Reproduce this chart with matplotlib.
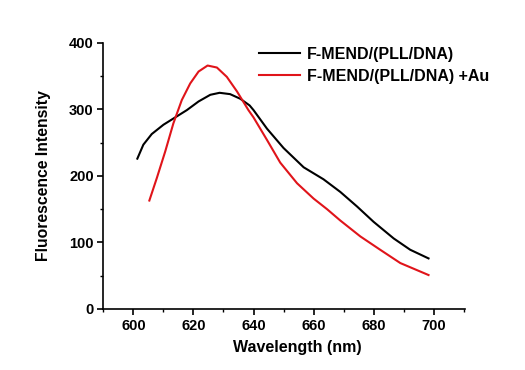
import matplotlib
matplotlib.use("Agg")
import matplotlib.pyplot as plt
from matplotlib.ticker import MultipleLocator

plt.rcParams.update(
    {
        "font.family": ["Liberation Sans", "DejaVu Sans"],
        "font.weight": "bold",
        "font.size": 10,
        "axes.linewidth": 1.2,
    }
)

# black: F-MEND/(PLL/DNA)
wl_black = [601.3, 603.3, 606.1, 610.0, 613.9, 617.8, 621.7, 625.6, 628.7, 632.2, 635.6,
            638.7, 640.0, 644.5, 650.0, 656.7, 663.3, 668.9, 674.5, 680.0, 686.7, 692.2, 698.3]
int_black = [226, 247, 263, 277, 288, 299, 312, 322, 325, 323, 316,
             306, 299, 271, 242, 213, 195, 176, 154, 131, 106, 89, 76]

# red: F-MEND/(PLL/DNA) +Au
wl_red = [605.3, 607.8, 610.6, 613.3, 616.1, 618.9, 621.7, 624.7, 627.8, 631.1, 634.5,
          638.3, 640.0, 644.5, 648.9, 654.5, 660.0, 664.5, 668.9, 675.6, 682.2, 688.9, 698.3]
int_red = [163, 197, 237, 279, 314, 339, 357, 366, 363, 349, 327,
           299, 288, 254, 220, 189, 166, 150, 133, 109, 89, 69, 51]

labels = ["F-MEND/(PLL/DNA)", "F-MEND/(PLL/DNA) +Au"]

fig = plt.figure(figsize=(5.25, 3.7), dpi=100)
ax = fig.add_axes([0.197, 0.165, 0.689, 0.719])

ax.plot(wl_black, int_black, color="black", lw=1.5, label=labels[0],
        solid_joinstyle="round")
ax.plot(wl_red, int_red, color="#e0141a", lw=1.5, label=labels[1],
        solid_joinstyle="round")

ax.set_xlim(590, 710.5)
ax.set_ylim(0, 400)
ax.xaxis.set_major_locator(MultipleLocator(20))
ax.xaxis.set_minor_locator(MultipleLocator(10))
ax.yaxis.set_major_locator(MultipleLocator(100))
ax.yaxis.set_minor_locator(MultipleLocator(50))
ax.tick_params(which="major", direction="out", length=4, width=1.2, labelsize=10.5, pad=3)
ax.tick_params(which="minor", direction="out", length=2.5, width=1.0)
for s in ["top", "right"]:
    ax.spines[s].set_visible(False)

ax.set_xlabel("Wavelength (nm)", fontsize=11.5, fontweight="bold", labelpad=5)
ax.xaxis.set_label_coords(0.535, -0.115)
ax.set_ylabel("Fluorescence Intensity", fontsize=11.3, fontweight="bold", labelpad=13)

ax.legend(loc="upper left", bbox_to_anchor=(0.39, 1.04), frameon=False,
          handlelength=2.6, handletextpad=0.4, labelspacing=0.45, fontsize=11.5)

fig.savefig("out.png", dpi=100)
